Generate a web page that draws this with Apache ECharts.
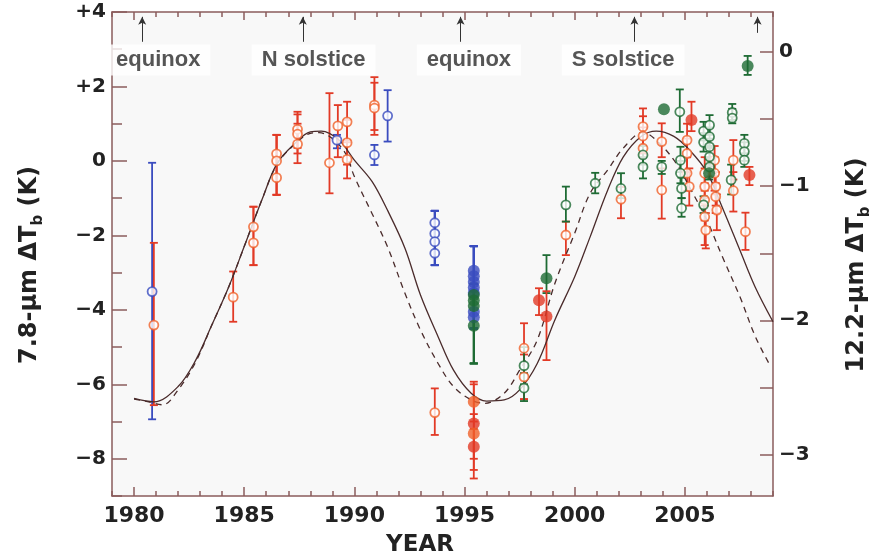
<!DOCTYPE html>
<html>
<head>
<meta charset="utf-8">
<script src="https://cdn.jsdelivr.net/npm/echarts@6/dist/echarts.min.js"></script>
<style>
  html, body { margin: 0; padding: 0; background: #fff; }
  #chart { width: 881px; height: 558px; }
</style>
</head>
<body>
<div id="chart"></div>
<script>
// model curves
const solidYears = [1980.0, 1980.9, 1982.0, 1982.8, 1983.5, 1984.3, 1985.0, 1985.8, 1986.5, 1987.3, 1988.0, 1988.5, 1989.3, 1990.0, 1990.8, 1991.5, 1992.3, 1993.0, 1993.8, 1994.5, 1995.3, 1996.0, 1996.8, 1997.5, 1998.3, 1999.1, 2000.0, 2000.7, 2001.5, 2002.2, 2003.0, 2003.7, 2004.5, 2005.2, 2006.0, 2006.7, 2007.5, 2008.2, 2009.0];
const solidVals = [-6.38, -6.47, -6.06, -5.35, -4.45, -3.38, -2.30, -1.05, -0.06, 0.47, 0.78, 0.80, 0.56, 0.02, -0.55, -1.32, -2.35, -3.6, -4.72, -5.62, -6.24, -6.45, -6.42, -6.15, -5.44, -4.27, -3.11, -2.04, -0.78, 0.1, 0.65, 0.80, 0.66, 0.30, -0.30, -1.25, -2.40, -3.40, -4.32];
const dashYears = [1980.0, 1980.5, 1981.3, 1982.0, 1982.8, 1983.5, 1984.3, 1985.0, 1985.8, 1986.5, 1987.3, 1988.0, 1988.4, 1989.0, 1989.6, 1990.0, 1990.8, 1991.5, 1992.3, 1993.0, 1993.8, 1994.5, 1995.3, 1995.9, 1996.8, 1997.5, 1998.3, 1999.1, 2000.0, 2000.7, 2001.5, 2002.2, 2003.1, 2003.8, 2004.6, 2005.3, 2006.0, 2006.7, 2007.5, 2008.2, 2008.9];
const dashVals = [-6.40, -6.45, -6.55, -6.15, -5.40, -4.45, -3.38, -2.30, -1.05, -0.08, 0.45, 0.74, 0.76, 0.6, 0.2, -0.42, -1.41, -2.30, -3.56, -4.54, -5.44, -6.06, -6.42, -6.51, -6.24, -5.62, -4.81, -3.29, -1.94, -0.87, -0.24, 0.34, 0.77, 0.5, -0.06, -0.8, -1.59, -2.57, -3.65, -4.72, -5.53];

// observations: [year, dTb, low, high]
const redOpen = [
  [1980.9, -4.41, -6.56, -2.2], [1984.5, -3.66, -4.32, -2.97],
  [1985.42, -1.77, -2.8, -1.23], [1985.42, -2.2, -2.8, -1.23],
  [1986.47, 0.19, -0.91, 0.7], [1986.47, 0.0, -0.91, 0.7], [1986.47, -0.45, -0.91, 0.7],
  [1987.42, 0.85, 0.35, 1.32], [1987.42, 0.72, 0.2, 1.25], [1987.42, 0.45, -0.06, 1.0],
  [1988.87, -0.05, -0.87, 1.82], [1989.25, 0.94, 0.1, 1.5],
  [1989.67, 1.05, 0.55, 1.59], [1989.67, 0.49, -0.1, 1.1], [1989.67, 0.04, -0.47, 0.5],
  [1990.91, 1.5, 0.7, 2.25], [1990.91, 1.42, 0.83, 2.1],
  [1993.65, -6.76, -7.36, -6.11],
  [1997.7, -5.03, -6.4, -4.36], [1997.7, -5.8, -6.4, -5.2],
  [1999.6, -1.99, -2.53, -1.63], [2002.1, -1.03, -1.54, -0.7],
  [2003.1, 0.92, 0.4, 1.41], [2003.1, 0.67, 0.2, 1.2], [2003.1, 0.34, 0.1, 0.9],
  [2003.95, 0.52, 0.1, 1.01], [2003.95, -0.78, -1.55, -0.2],
  [2005.1, 0.56, 0.1, 1.0], [2005.1, 0.2, -0.3, 0.6], [2005.1, -0.33, -0.8, 0.1], [2005.2, -0.69, -1.2, -0.2],
  [2005.9, -0.33, -0.8, 0.1], [2005.9, -0.69, -1.2, -0.2], [2005.9, -1.05, -1.6, -0.6],
  [2005.9, -1.5, -2.26, -1.0], [2005.95, -1.86, -2.35, -1.4],
  [2006.35, 0.02, -0.4, 0.4], [2006.35, -0.33, -0.8, 0.1], [2006.4, -0.69, -1.2, -0.3],
  [2006.4, -0.96, -1.4, -0.6], [2006.45, -1.32, -1.86, -0.9],
  [2007.2, 0.02, -0.5, 0.56], [2007.2, -0.8, -1.36, -0.3], [2007.75, -1.9, -2.39, -1.39]
];
const blueOpen = [
  [1980.82, -3.51, -6.94, -0.05], [1989.21, 0.56, 0.34, 0.7], [1990.91, 0.16, -0.11, 0.43],
  [1991.51, 1.21, 0.52, 1.9],
  [1993.65, -1.66, -2.8, -1.34], [1993.65, -1.95, -2.8, -1.34], [1993.65, -2.17, -2.8, -1.34], [1993.65, -2.48, -2.8, -1.34]
];
const greenOpen = [
  [1997.7, -5.5, -6.0, -5.0], [1997.7, -6.1, -6.45, -5.7],
  [1999.6, -1.18, -1.63, -0.69], [2000.93, -0.6, -0.87, -0.32], [2002.1, -0.74, -1.0, -0.33],
  [2003.1, 0.16, -0.1, 0.4], [2003.1, -0.16, -0.47, 0.1], [2003.95, -0.16, -0.35, 0.0],
  [2004.77, 1.32, 0.78, 1.92], [2004.8, 0.02, -0.3, 0.38], [2004.8, -0.33, -0.6, 0.0],
  [2004.85, -0.74, -1.0, -0.45], [2004.85, -1.27, -1.5, -1.0],
  [2005.85, 0.8, 0.55, 1.05], [2005.85, 0.5, 0.25, 0.75], [2005.85, -1.18, -1.4, -0.95],
  [2006.12, 0.96, 0.7, 1.23], [2006.12, 0.65, 0.4, 0.9], [2006.12, 0.38, 0.1, 0.6],
  [2006.12, 0.11, -0.1, 0.35], [2006.12, -0.16, -0.4, 0.05],
  [2007.15, 1.3, 1.1, 1.53], [2007.15, 1.15, 1.01, 1.4], [2007.1, -0.51, -0.9, -0.1],
  [2007.7, 0.47, 0.2, 0.7], [2007.7, 0.25, 0.0, 0.5], [2007.7, 0.02, -0.16, 0.2]
];
const blueFilled = [
  [1995.42, -2.95, -4.5, -2.29], [1995.42, -3.1, -4.5, -2.29], [1995.42, -3.25, -4.5, -2.29],
  [1995.42, -3.4, -4.5, -2.29], [1995.42, -3.55, -4.5, -2.29], [1995.42, -4.05, -4.5, -2.29],
  [1995.42, -4.2, -4.5, -2.29]
];
const greenFilled = [
  [1995.42, -3.6, -5.44, -3.3], [1995.42, -3.75, -5.44, -3.3], [1995.42, -3.9, -5.44, -3.3],
  [1995.42, -4.43, -5.44, -3.3], [1998.72, -3.15, -3.55, -2.53], [2004.05, 1.39, 1.39, 1.39],
  [2006.1, -0.33, -0.5, -0.15], [2007.85, 2.55, 2.31, 2.82]
];
const redFilled = [
  [1995.42, -7.05, -8.3, -6.0], [1995.42, -7.68, -8.53, -7.2], [1998.38, -3.74, -4.14, -3.42],
  [1998.72, -4.18, -5.35, -3.5], [2005.3, 1.1, 0.8, 1.59], [2007.93, -0.38, -0.65, -0.16]
];
const orangeFilled = [
  [1995.42, -6.47, -7.0, -5.93], [1995.42, -7.32, -8.0, -6.8]
];

// season markers
const arrowYears = [1980.37, 1987.66, 1994.82, 2002.71, 2008.3];
const seasonNames = ['equinox', 'N solstice', 'equinox', 'S solstice'];
const seasonYears = [1981.1, 1988.15, 1995.2, 2002.2];

const xLabelYears = [1980, 1985, 1990, 1995, 2000, 2005];
const leftLabels = [-8, -6, -4, -2, 0, 2, 4];
const rightLabels = [0, -1, -2, -3];
const rightTicks = [0, -0.5, -1, -1.5, -2, -2.5, -3];

const AXIS = '#8a5c5c';
const FONT = 'Liberation Sans';
const TICKFONT = 'DejaVu Sans';
const C_RED = '#e23a26', C_ORANGE = '#f0612a', C_BLUE = '#3a4cbf', C_GREEN = '#1e6b34';

function fmtSigned(v) {
  if (v > 0) return '+' + v;
  if (v < 0) return '\u2212' + (-v);
  return '0';
}

function renderBar(params, api) {
  const lo = api.coord([api.value(0), api.value(2)]);
  const hi = api.coord([api.value(0), api.value(3)]);
  if (Math.abs(lo[1] - hi[1]) < 1) return null;
  const w = 4;
  const style = { stroke: api.visual('color'), lineWidth: 1.8 };
  return {
    type: 'group',
    children: [
      { type: 'line', shape: { x1: lo[0], y1: lo[1], x2: hi[0], y2: hi[1] }, style },
      { type: 'line', shape: { x1: lo[0] - w, y1: lo[1], x2: lo[0] + w, y2: lo[1] }, style },
      { type: 'line', shape: { x1: hi[0] - w, y1: hi[1], x2: hi[0] + w, y2: hi[1] }, style }
    ]
  };
}

function bars(data, color) {
  return {
    type: 'custom', renderItem: renderBar, data: data, z: 2,
    itemStyle: { color: color }, encode: { x: 0, y: [2, 3] }, silent: true
  };
}

function openPts(data, color) {
  return {
    type: 'scatter', data: data.map(d => [d[0], d[1]]), symbol: 'circle', symbolSize: 9, z: 4,
    itemStyle: { color: '#fff', borderColor: color, borderWidth: 1.8 }
  };
}

function filledPts(data, color) {
  return {
    type: 'scatter', data: data.map(d => [d[0], d[1]]), symbol: 'circle', symbolSize: 12, z: 5,
    itemStyle: { color: color }
  };
}

const xBase = { type: 'value', min: 1979, max: 2009, gridIndex: 0, splitLine: { show: false } };
const nameStyle = {
  color: '#222', fontFamily: TICKFONT, fontWeight: 'bold', fontSize: 24, lineHeight: 32,
  padding: [0, 22, 0, 0],
  rich: { sub: { fontSize: 15, fontFamily: TICKFONT, fontWeight: 'bold', color: '#222', verticalAlign: 'bottom', lineHeight: 32 } }
};

const chart = echarts.init(document.getElementById('chart'));
chart.setOption({
  animation: false,
  backgroundColor: '#fff',
  grid: { left: 112, right: 104, top: 12, bottom: 62, show: true, backgroundColor: '#f8f8f8', borderWidth: 0 },
  xAxis: [
    Object.assign({}, xBase, {
      position: 'bottom', interval: 1,
      axisLine: { onZero: false, lineStyle: { color: AXIS, width: 1.5 } },
      axisTick: { inside: true, length: 5, lineStyle: { color: AXIS, width: 1.5 } },
      axisLabel: {
        customValues: xLabelYears, margin: 9, formatter: v => String(v),
        color: '#222', fontFamily: TICKFONT, fontWeight: 'bold', fontSize: 22
      }
    }),
    Object.assign({}, xBase, {
      position: 'bottom',
      axisLine: { show: false, onZero: false },
      axisTick: { inside: true, length: 9, customValues: xLabelYears, lineStyle: { color: AXIS, width: 1.5 } },
      axisLabel: { show: false }
    }),
    Object.assign({}, xBase, {
      position: 'top', interval: 1,
      axisLine: { onZero: false, lineStyle: { color: AXIS, width: 1.5 } },
      axisTick: { inside: true, length: 5, lineStyle: { color: AXIS, width: 1.5 } },
      axisLabel: { show: false }
    }),
    Object.assign({}, xBase, {
      position: 'top',
      axisLine: { show: false, onZero: false },
      axisTick: { inside: true, length: 8, customValues: xLabelYears, lineStyle: { color: AXIS, width: 1.5 } },
      axisLabel: { show: false }
    })
  ],
  yAxis: [
    {
      type: 'value', min: -9, max: 4, interval: 1, position: 'left', splitLine: { show: false },
      name: '7.8-\u00b5m \u0394T{sub|b} (K)', nameLocation: 'middle', nameRotate: 90, nameGap: 66,
      nameTextStyle: nameStyle,
      axisLine: { show: true, onZero: false, lineStyle: { color: AXIS, width: 1.5 } },
      axisTick: { inside: true, length: 10, lineStyle: { color: AXIS, width: 1.5 } },
      axisLabel: {
        customValues: leftLabels, formatter: fmtSigned, margin: 6,
        color: '#222', fontFamily: TICKFONT, fontWeight: 'bold', fontSize: 20
      }
    },
    {
      type: 'value', min: -9, max: 4, position: 'left', splitLine: { show: false },
      axisLine: { show: false, onZero: false },
      axisTick: { inside: true, length: 15, customValues: leftLabels, lineStyle: { color: AXIS, width: 1.5 } },
      axisLabel: { show: false }
    },
    {
      type: 'value', min: -3.311, max: 0.3, position: 'right', splitLine: { show: false },
      name: '12.2-\u00b5m \u0394T{sub|b} (K)', nameLocation: 'middle', nameRotate: 90, nameGap: 68,
      nameTextStyle: nameStyle,
      axisLine: { show: true, onZero: false, lineStyle: { color: AXIS, width: 1.5 } },
      axisTick: { inside: true, length: 13, customValues: rightTicks, lineStyle: { color: AXIS, width: 1.5 } },
      axisLabel: {
        customValues: rightLabels, formatter: fmtSigned, margin: 6,
        color: '#222', fontFamily: TICKFONT, fontWeight: 'bold', fontSize: 20
      }
    }
  ],
  graphic: [{
    type: 'text', x: 420, y: 545,
    style: { text: 'YEAR', fill: '#222', font: 'bold 23px "DejaVu Sans"', textAlign: 'center', textVerticalAlign: 'middle' }
  }],
  series: [
    {
      type: 'line', data: solidYears.map((y, i) => [y, solidVals[i]]), smooth: 0.35, showSymbol: false, z: 3,
      lineStyle: { color: '#4a2b2b', width: 1.3 }, silent: true
    },
    {
      type: 'line', data: dashYears.map((y, i) => [y, dashVals[i]]), smooth: 0.35, showSymbol: false, z: 3,
      lineStyle: { color: '#4a2b2b', width: 1.3, type: [6, 5] }, silent: true
    },
    bars(blueOpen, C_BLUE), bars(redOpen, C_RED), bars(greenOpen, C_GREEN),
    bars(blueFilled, C_BLUE), bars(greenFilled, C_GREEN), bars(redFilled, C_RED), bars(orangeFilled, C_RED),
    openPts(blueOpen, C_BLUE), openPts(redOpen, C_ORANGE), openPts(greenOpen, C_GREEN),
    filledPts(blueFilled, C_BLUE), filledPts(greenFilled, C_GREEN),
    filledPts(redFilled, C_RED), filledPts(orangeFilled, C_ORANGE),
    {
      type: 'scatter', silent: true, symbolSize: 1, z: 6,
      itemStyle: { color: 'transparent' },
      data: seasonYears.map((y, i) => ({ value: [y, 2.71], name: seasonNames[i] })),
      label: {
        show: true, position: 'inside', formatter: p => p.name,
        color: '#2a2a2a', fontFamily: FONT, fontWeight: 'bold', fontSize: 22,
        backgroundColor: '#fff', padding: [5, 10, 4, 10]
      }
    },
    {
      type: 'line', data: [], silent: true,
      markLine: {
        silent: true, symbol: ['none', 'arrow'], symbolSize: [6, 8],
        label: { show: false },
        lineStyle: { color: '#333', width: 1, type: 'solid' },
        data: arrowYears.map((y, i) => [
          { coord: [y, i === 4 ? 3.44 : 3.2] },
          { coord: [y, 3.87] }
        ])
      }
    }
  ]
});
</script>
</body>
</html>
